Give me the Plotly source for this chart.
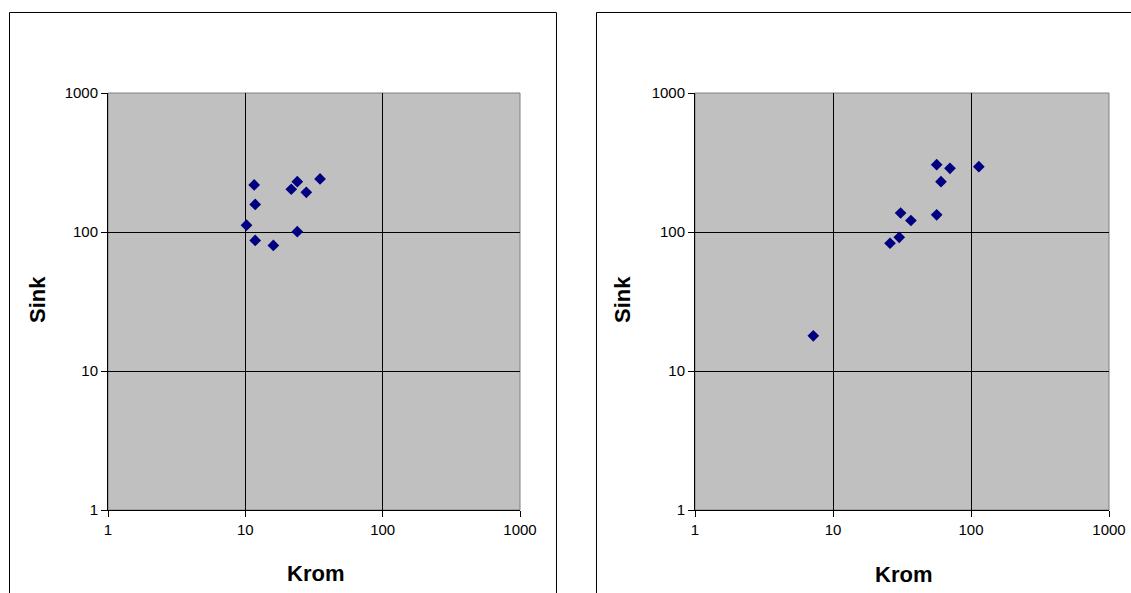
import plotly.graph_objects as go

# Data
krom_left = [11.6, 11.8, 10.2, 11.8, 16.0, 23.9, 21.6, 23.9, 27.8, 35.0]
sink_left = [218, 158, 112, 87, 80, 100.5, 203, 230, 193, 241]
krom_right = [56.4, 70.4, 114, 60.6, 30.9, 36.7, 56.4, 30.2, 25.9, 7.2]
sink_right = [305, 287, 295, 230, 137, 121, 133, 91.6, 83, 17.9]
tick_vals = [1, 10, 100, 1000]
tick_text = ["1", "10", "100", "1000"]
x_title = "Krom"
y_title = "Sink"

W, H = 1131, 593
def px(x):
    return x / W
def py(y):
    return (H - y) / H

fig = go.Figure()
marker = dict(symbol="diamond", size=9, color="#000080", line=dict(width=0))
fig.add_trace(go.Scatter(x=krom_left, y=sink_left, mode="markers", marker=marker,
                         xaxis="x", yaxis="y", showlegend=False, hoverinfo="x+y"))
fig.add_trace(go.Scatter(x=krom_right, y=sink_right, mode="markers", marker=marker,
                         xaxis="x2", yaxis="y2", showlegend=False, hoverinfo="x+y"))

tickfont = dict(family="Liberation Sans, Arial, sans-serif", size=15, color="black")
titlefont = dict(family="Liberation Sans, Arial, sans-serif", size=22, color="black")

def axis(domain, anchor):
    return dict(type="log", range=[0, 3], domain=domain, anchor=anchor,
                tickvals=tick_vals, ticktext=tick_text, tickfont=tickfont,
                ticks="outside", ticklen=6, tickcolor="black", tickwidth=1,
                showline=True, linecolor="black", linewidth=1,
                showgrid=True, gridcolor="black", gridwidth=1,
                zeroline=False, mirror=False, fixedrange=True)

ydom = [py(510), py(93)]
fig.update_layout(
    autosize=True,
    margin=dict(l=0, r=0, t=0, b=0, pad=0, autoexpand=False),
    paper_bgcolor="white",
    plot_bgcolor="#C0C0C0",
    xaxis=axis([px(108), px(520)], "y"),
    yaxis=axis(ydom, "x"),
    xaxis2=axis([px(695), px(1109)], "y2"),
    yaxis2=axis(ydom, "x2"),
    showlegend=False,
)

def path(points):
    return "M " + " L ".join("%f,%f" % (px(a), py(b)) for a, b in points)

shapes = []
# chart boxes (open at the edges of the page)
shapes.append(dict(type="path", xref="paper", yref="paper",
                   path=path([(9.5, 593), (9.5, 12.5), (556.5, 12.5), (556.5, 593)]),
                   line=dict(color="black", width=1), layer="below"))
shapes.append(dict(type="path", xref="paper", yref="paper",
                   path=path([(596.5, 593), (596.5, 12.5), (1131, 12.5)]),
                   line=dict(color="black", width=1), layer="below"))
# gray plot-area borders
for x0, x1 in [(108, 520), (695, 1109)]:
    shapes.append(dict(type="rect", xref="paper", yref="paper",
                       x0=px(x0), x1=px(x1), y0=py(510), y1=py(93),
                       line=dict(color="#808080", width=1), fillcolor="rgba(0,0,0,0)", layer="below"))
fig.update_layout(shapes=shapes)

annotations = []
for cx, cy in [(315, 573), (903, 574)]:
    annotations.append(dict(text="<b>%s</b>" % x_title, x=px(cx), y=py(cy), xref="paper", yref="paper",
                            showarrow=False, font=titlefont, xanchor="center", yanchor="middle"))
for cx, cy in [(37, 300), (622, 300)]:
    annotations.append(dict(text="<b>%s</b>" % y_title, x=px(cx), y=py(cy), xref="paper", yref="paper",
                            showarrow=False, font=titlefont, textangle=-90, xanchor="center", yanchor="middle"))
fig.update_layout(annotations=annotations)

fig.write_html("out.html", config={"displayModeBar": False, "responsive": True},
               default_width="100vw", default_height="100vh",
               post_script="document.body.style.margin='0';document.body.style.overflow='hidden';"
                           "window.dispatchEvent(new Event('resize'));")
